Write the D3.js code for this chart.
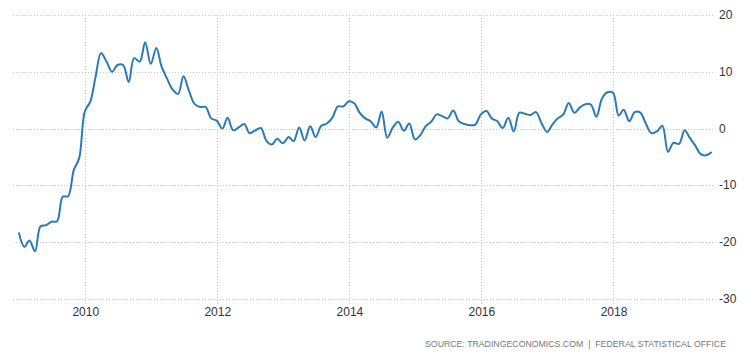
<!DOCTYPE html>
<html>
<head>
<meta charset="utf-8">
<script src="https://cdn.jsdelivr.net/npm/d3@7/dist/d3.min.js"></script>
<style>
  html, body { margin: 0; padding: 0; background: #fff; }
  svg { display: block; }
</style>
</head>
<body>
<svg id="chart" width="754" height="361"></svg>
<script>
// ---- data ----
const startYear = 2009;
const startMonth = 0; // January
const values = [
  // 2009
  -18.3, -20.8, -19.7, -21.6, -17.2, -17.0, -16.4, -16.3, -12.0, -11.9, -7.3, -5.2,
  // 2010
  3.0, 4.8, 9.0, 13.3, 11.8, 10.0, 11.2, 11.2, 8.2, 12.4, 11.8, 15.2,
  // 2011
  11.4, 14.2, 11.0, 8.8, 6.9, 6.1, 9.2, 6.6, 4.3, 3.8, 3.8, 1.8,
  // 2012
  1.4, 0.0, 1.9, -0.3, 0.2, 0.8, -0.8, -0.3, 0.1, -2.1, -2.8, -1.8,
  // 2013
  -2.6, -1.5, -2.2, 0.2, -2.1, 0.4, -1.5, 0.5, 0.9, 1.9, 3.9, 3.9,
  // 2014
  4.8, 4.4, 2.8, 1.8, 1.3, 0.2, 3.0, -1.6, 0.2, 1.2, -0.4, 0.9,
  // 2015
  -1.9, -1.1, 0.4, 1.2, 2.5, 2.2, 1.8, 3.2, 1.3, 0.8, 0.6, 0.7,
  // 2016
  2.5, 3.1, 1.8, 1.3, 0.1, 1.9, -0.5, 2.8, 2.6, 2.4, 2.9, 1.0,
  // 2017
  -0.6, 0.8, 1.8, 2.5, 4.5, 2.8, 3.7, 4.3, 4.2, 2.1, 5.3, 6.4,
  // 2018
  6.3, 2.3, 3.3, 1.3, 2.9, 2.8, 0.9, -0.8, -0.5, 0.5, -4.1, -2.5,
  // 2019
  -2.7, -0.3, -1.6, -3.0, -4.5, -4.7, -4.1
];
const yTicks = [20, 10, 0, -10, -20, -30];
const xTickYears = [2010, 2012, 2014, 2016, 2018];
const sourceText = "SOURCE: TRADINGECONOMICS.COM  |  FEDERAL STATISTICAL OFFICE";

const data = values.map((v, i) => ({ date: new Date(startYear, startMonth + i, 1), value: v }));

// ---- layout ----
const svg = d3.select("#chart");
const plotLeft = 13, plotRight = 715, plotTop = 15, plotBottom = 299;

const x = d3.scaleTime()
  .domain([new Date(2008, 10, 30), new Date(2019, 6, 19)])
  .range([plotLeft, plotRight]);
const y = d3.scaleLinear().domain([-30, 20]).range([plotBottom, plotTop]);

const gridColor = "#c8c8c8";

// horizontal grid
svg.append("g").selectAll("line").data(yTicks).join("line")
  .attr("x1", plotLeft).attr("x2", plotRight)
  .attr("y1", d => Math.round(y(d)) + 0.5).attr("y2", d => Math.round(y(d)) + 0.5)
  .attr("stroke", gridColor).attr("stroke-width", 1).attr("stroke-dasharray", "1,2");

// vertical grid
svg.append("g").selectAll("line").data(xTickYears).join("line")
  .attr("x1", d => Math.round(x(new Date(d, 0, 1))) + 0.5)
  .attr("x2", d => Math.round(x(new Date(d, 0, 1))) + 0.5)
  .attr("y1", plotTop).attr("y2", plotBottom + 5)
  .attr("stroke", gridColor).attr("stroke-width", 1).attr("stroke-dasharray", "1,2");

// y labels
svg.append("g").selectAll("text").data(yTicks).join("text")
  .attr("x", 719).attr("y", d => y(d) + 4)
  .attr("font-family", "Arial, 'Liberation Sans', sans-serif")
  .attr("font-size", 12).attr("fill", "#333")
  .text(d => d);

// x labels
svg.append("g").selectAll("text").data(xTickYears).join("text")
  .attr("x", d => x(new Date(d, 0, 1)) + 1).attr("y", 316)
  .attr("text-anchor", "middle")
  .attr("font-family", "Arial, 'Liberation Sans', sans-serif")
  .attr("font-size", 12).attr("fill", "#333")
  .text(d => d);

// line
const line = d3.line()
  .x(d => x(d.date))
  .y(d => y(d.value))
  .curve(d3.curveCatmullRom.alpha(0.5));

svg.append("path").datum(data)
  .attr("d", line)
  .attr("fill", "none")
  .attr("stroke", "#2a7ab5")
  .attr("stroke-width", 2)
  .attr("stroke-linejoin", "round");

// source
svg.append("text")
  .attr("x", 425).attr("y", 347)
  .attr("font-family", "Arial, 'Liberation Sans', sans-serif")
  .attr("font-size", 9).attr("fill", "#777")
  .attr("textLength", 301)
  .attr("lengthAdjust", "spacingAndGlyphs")
  .style("white-space", "pre")
  .text(sourceText);
</script>
</body>
</html>
